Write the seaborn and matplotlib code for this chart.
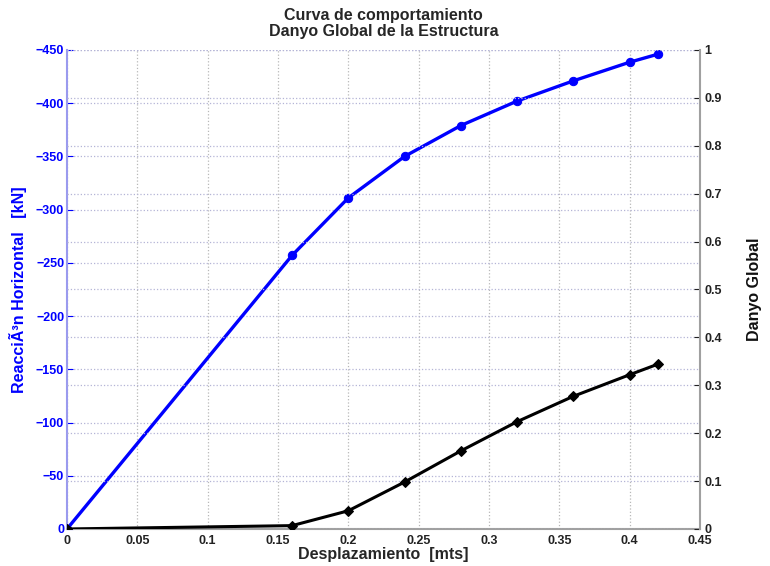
import numpy as np
import pandas as pd
import matplotlib
matplotlib.use("Agg")
import matplotlib.pyplot as plt
import seaborn as sns

# data
desplazamiento = [0.0, 0.16, 0.20, 0.24, 0.28, 0.32, 0.36, 0.40, 0.42]
reaccion = [0.0, -257, -311, -350, -379, -402, -421, -438.5, -446]
danyo = [0.0, 0.007, 0.038, 0.098, 0.163, 0.224, 0.277, 0.322, 0.344]

x_ticks = [0, 0.05, 0.1, 0.15, 0.2, 0.25, 0.3, 0.35, 0.4, 0.45]
x_ticklabels = ["0", "0.05", "0.1", "0.15", "0.2", "0.25", "0.3", "0.35", "0.4", "0.45"]
left_ticks = [0, -50, -100, -150, -200, -250, -300, -350, -400, -450]
right_ticks = [0, 0.1, 0.2, 0.3, 0.4, 0.5, 0.6, 0.7, 0.8, 0.9, 1.0]
right_ticklabels = ["0", "0.1", "0.2", "0.3", "0.4", "0.5", "0.6", "0.7", "0.8", "0.9", "1"]

df = pd.DataFrame({"x": desplazamiento, "reac": reaccion, "dan": danyo})

sns.set_style("white")
plt.rcParams["font.family"] = ["Liberation Sans", "DejaVu Sans"]
plt.rcParams["font.weight"] = "bold"

fig = plt.figure(figsize=(7.7, 5.66), dpi=100)
ax = fig.add_axes([0.087, 0.0654, 0.822, 0.8463])
ax2 = ax.twinx()

grid_col = "#b4b4d6"
blue = "#0000ff"

sns.lineplot(data=df, x="x", y="reac", ax=ax, color=blue, linewidth=2.4,
             marker="o", markersize=6, markeredgecolor=blue, zorder=3)
sns.lineplot(data=df, x="x", y="dan", ax=ax2, color="black", linewidth=2.2,
             marker="D", markersize=5, markeredgecolor="black", zorder=3)

ax.set_xlim(0, 0.45)
ax.set_ylim(0, -450)
ax2.set_ylim(0, 1)

ax.set_xticks(x_ticks)
ax.set_xticklabels(x_ticklabels)
ax.set_yticks(left_ticks)
ax.set_yticklabels([str(v).replace("-", "\u2212") for v in left_ticks])
ax2.set_yticks(right_ticks)
ax2.set_yticklabels(right_ticklabels)

ax.grid(True, axis="x", linestyle=":", color="#b8b8b8", linewidth=0.9)
ax.grid(True, axis="y", linestyle=":", color=grid_col, linewidth=0.9)
ax2.grid(True, axis="y", linestyle=":", color=grid_col, linewidth=0.9)
ax.set_axisbelow(True)

for a in (ax, ax2):
    for s in a.spines.values():
        s.set_visible(False)
ax.spines["left"].set_visible(True)
ax.spines["left"].set_color("#9a9aee")
ax.spines["left"].set_linewidth(1.5)
ax.spines["bottom"].set_visible(True)
ax.spines["bottom"].set_color("#a0a0a0")
ax.spines["bottom"].set_linewidth(1.5)
ax2.spines["right"].set_visible(True)
ax2.spines["right"].set_color("#a0a0a0")
ax2.spines["right"].set_linewidth(1.5)

ax.tick_params(axis="x", direction="in", length=4, labelsize=9, colors="#222222", pad=4)
ax.tick_params(axis="y", direction="in", length=4, labelsize=9, colors=blue, pad=2)
ax2.tick_params(axis="y", direction="in", length=4, labelsize=9, colors="#222222", pad=3)
for lab in ax.get_xticklabels() + ax.get_yticklabels() + ax2.get_yticklabels():
    lab.set_fontweight("bold")

ax.set_xlabel("Desplazamiento  [mts]", fontsize=11.5, fontweight="bold", labelpad=0)
ax.set_ylabel("ReacciÃ³n Horizontal   [kN]", fontsize=11.5, fontweight="bold", color=blue)
ax.yaxis.set_label_coords(-0.063, 0.5)
ax2.set_ylabel("Danyo Global", fontsize=11.5, fontweight="bold", color="#111111")
ax2.yaxis.set_label_coords(1.075, 0.5)

ax.set_title("Curva de comportamiento\nDanyo Global de la Estructura",
             fontsize=11.5, fontweight="bold", pad=10, linespacing=1.05)

fig.savefig("out.png", dpi=100, facecolor="white")
plt.close(fig)
